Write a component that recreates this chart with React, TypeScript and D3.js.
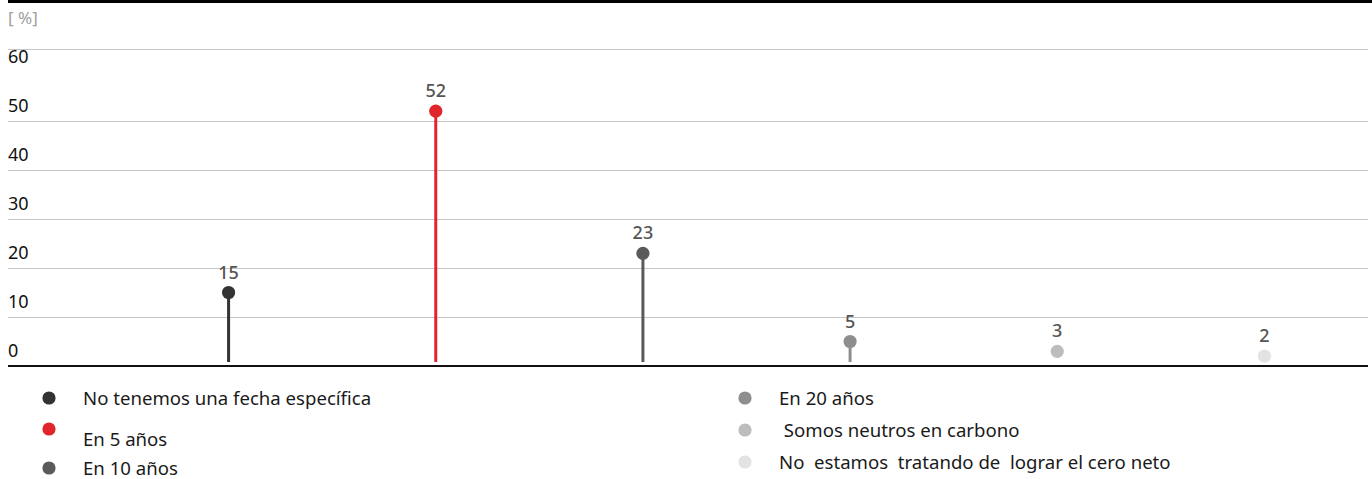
import React from "react";
import * as d3 from "d3";

const categories = [
  "No tenemos una fecha específica",
  "En 5 años",
  "En 10 años",
  "En 20 años",
  " Somos neutros en carbono",
  "No  estamos  tratando de  lograr el cero neto",
];
const values = [15, 52, 23, 5, 3, 2];
const colors = ["#333333", "#e0262b", "#5a5a5a", "#8e8e8e", "#bdbdbd", "#e3e3e3"];
const yTicks = [0, 10, 20, 30, 40, 50, 60];
const unitLabel = "[ %]";

const W = 1372;
const H = 479;
const FONT = "'Noto Sans', sans-serif";

export default function App() {
  const x = d3.scaleBand<string>().domain(categories).range([125, 1368]);
  const y = d3.scaleLinear().domain([0, 10]).range([366, 317]);
  const stemBottom = 362;
  const r = 6.6;

  // Legend: two columns of three rows
  const legendLeft = [
    { i: 0, dotY: 398, textY: 398 },
    { i: 1, dotY: 429, textY: 439 },
    { i: 2, dotY: 468, textY: 468 },
  ];
  const legendRight = [
    { i: 3, dotY: 398, textY: 398 },
    { i: 4, dotY: 430, textY: 430 },
    { i: 5, dotY: 462, textY: 462 },
  ];

  return (
    <svg
      width={W}
      height={H}
      style={{ position: "absolute", left: 0, top: 0, fontFamily: FONT }}
    >
      <rect x={8} y={0} width={W - 8} height={3} fill="#000" />
      <text x={8} y={24} fontSize={17} fill="#a0a0a0">
        {unitLabel}
      </text>

      {/* top frame line and gridlines */}
      <line x1={8} x2={1368} y1={49.5} y2={49.5} stroke="#c6c6c6" strokeWidth={1} />
      {yTicks
        .filter((t) => t > 0 && t < 60)
        .map((t) => (
          <line
            key={t}
            x1={8}
            x2={1368}
            y1={Math.round(y(t)) + 0.5}
            y2={Math.round(y(t)) + 0.5}
            stroke="#c6c6c6"
            strokeWidth={1}
          />
        ))}
      {yTicks.map((t) => (
        <text key={t} x={8} y={y(t) - 9.5} fontSize={18} fill="#111">
          {t}
        </text>
      ))}
      <line x1={8} x2={1368} y1={366} y2={366} stroke="#111" strokeWidth={2} />

      {categories.map((c, i) => {
        const cx = (x(c) as number) + x.bandwidth() / 2;
        const cy = y(values[i]);
        // very short stems disappear under the dot
        const showStem = stemBottom - (cy + r) > 6;
        return (
          <g key={c}>
            {showStem && (
              <line
                x1={cx}
                x2={cx}
                y1={cy}
                y2={stemBottom}
                stroke={colors[i]}
                strokeWidth={3}
              />
            )}
            <circle cx={cx} cy={cy} r={r} fill={colors[i]} />
            <text
              x={cx}
              y={cy - 14}
              textAnchor="middle"
              fontSize={18}
              fontWeight={500}
              fill="#555"
            >
              {values[i]}
            </text>
          </g>
        );
      })}

      {legendLeft.map((d) => (
        <g key={d.i}>
          <circle cx={49} cy={d.dotY} r={r} fill={colors[d.i]} />
          <text x={83} y={d.textY} dy="0.35em" fontSize={18.6} fill="#1a1a1a" style={{ whiteSpace: "pre" }}>
            {categories[d.i]}
          </text>
        </g>
      ))}
      {legendRight.map((d) => (
        <g key={d.i}>
          <circle cx={745} cy={d.dotY} r={r} fill={colors[d.i]} />
          <text x={779} y={d.textY} dy="0.35em" fontSize={18.6} fill="#1a1a1a" style={{ whiteSpace: "pre" }}>
            {categories[d.i]}
          </text>
        </g>
      ))}
    </svg>
  );
}
